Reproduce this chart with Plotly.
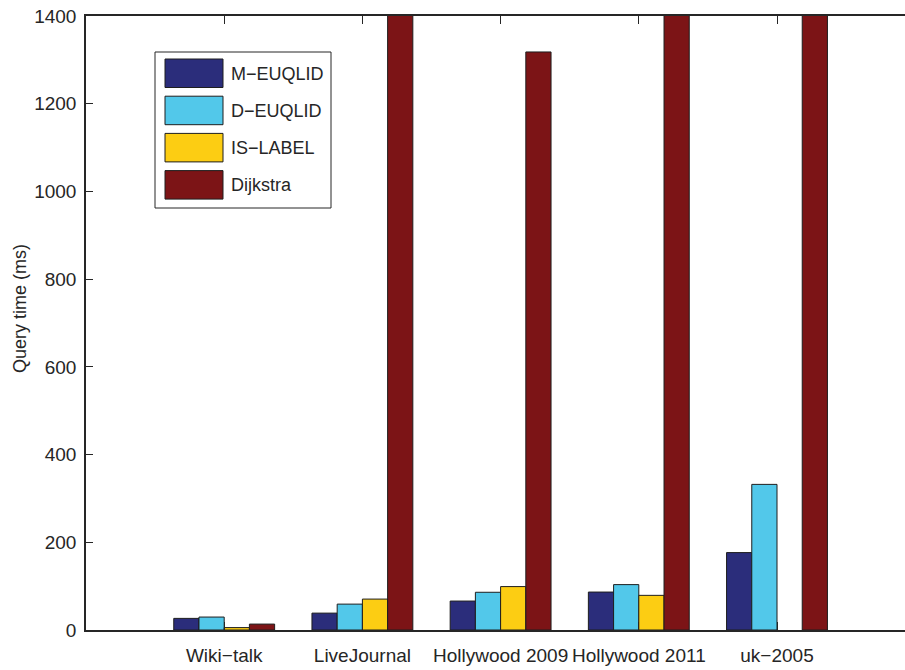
import plotly.graph_objects as go

# Datasets and query times (ms) per method
datasets = ["Wiki\u2212talk", "LiveJournal", "Hollywood 2009", "Hollywood 2011", "uk\u22122005"]
positions = [1, 2, 3, 4, 5]
methods = ["M\u2212EUQLID", "D\u2212EUQLID", "IS\u2212LABEL", "Dijkstra"]
m_euqlid = [26.5, 38.5, 66, 86.5, 176.5]
d_euqlid = [29.5, 59, 86, 103.5, 332]
is_label = [5.5, 70.5, 99, 79, None]
dijkstra = [13.5, 2100, 1318, 2600, 3200]
series = [m_euqlid, d_euqlid, is_label, dijkstra]
colors = ["#2b2d7b", "#52c8ea", "#fccd13", "#7c1416"]
y_ticks = [0, 200, 400, 600, 800, 1000, 1200, 1400]

W, H = 905, 670
ML, MT, MB = 86, 16, 40
plot_w = W - ML
plot_h = H - MT - MB
px_per_unit = 138.2
x_max = plot_w / px_per_unit

FONT = "Liberation Sans, Arial, sans-serif"
INK = "#262626"

fig = go.Figure()
for name, vals, col in zip(methods, series, colors):
    fig.add_trace(go.Bar(
        x=positions, y=vals, name=name,
        marker=dict(color=col, line=dict(color="#1e1e1e", width=1)),
        showlegend=False,
    ))

# Boxed legend with wide swatches, placed in pixel terms inside the axes
def px_to_paper(px, py):
    return (px - ML) / plot_w, (MT + plot_h - py) / plot_h

shapes = []
annotations = []
bx0, by0 = px_to_paper(155, 52)
bx1, by1 = px_to_paper(331, 208)
shapes.append(dict(type="rect", xref="paper", yref="paper", x0=bx0, y0=by1, x1=bx1, y1=by0,
                   line=dict(color=INK, width=1), fillcolor="white", layer="above"))
for i, (name, col) in enumerate(zip(methods, colors)):
    top = 59 + i * 37.2
    sx0, sy0 = px_to_paper(165, top)
    sx1, sy1 = px_to_paper(223, top + 28.5)
    shapes.append(dict(type="rect", xref="paper", yref="paper", x0=sx0, y0=sy1, x1=sx1, y1=sy0,
                       line=dict(color="#1e1e1e", width=1), fillcolor=col, layer="above"))
    tx, ty = px_to_paper(229, top + 14.5)
    annotations.append(dict(xref="paper", yref="paper", x=tx, y=ty, text=name, showarrow=False,
                            xanchor="left", yanchor="middle",
                            font=dict(family=FONT, size=18, color=INK)))

# y-axis title
tx, ty = px_to_paper(20, 309)
annotations.append(dict(xref="paper", yref="paper", x=tx, y=ty, text="Query time (ms)",
                        showarrow=False, textangle=-90, xanchor="center", yanchor="middle",
                        font=dict(family=FONT, size=18, color=INK)))

fig.update_layout(
    width=W, height=H,
    margin=dict(l=ML, r=0, t=MT, b=MB),
    paper_bgcolor="white", plot_bgcolor="white",
    barmode="group", bargap=0.27, bargroupgap=0,
    font=dict(family=FONT, size=19, color=INK),
    shapes=shapes, annotations=annotations,
    xaxis=dict(range=[0, x_max], tickvals=positions, ticktext=datasets,
               ticks="inside", ticklen=8, tickcolor=INK, tickwidth=1,
               showline=True, linecolor=INK, linewidth=1.5, mirror="ticks",
               showgrid=False, zeroline=False, ticklabelstandoff=7,
               tickfont=dict(family=FONT, size=19, color=INK)),
    yaxis=dict(range=[0, 1400], tickvals=y_ticks, ticks="inside", ticklen=7,
               tickcolor=INK, tickwidth=1, showline=True, linecolor=INK, linewidth=1.5,
               showgrid=False, zeroline=False, ticklabelstandoff=4,
               tickfont=dict(family=FONT, size=19, color=INK)),
)

fig.write_html("out.html")
